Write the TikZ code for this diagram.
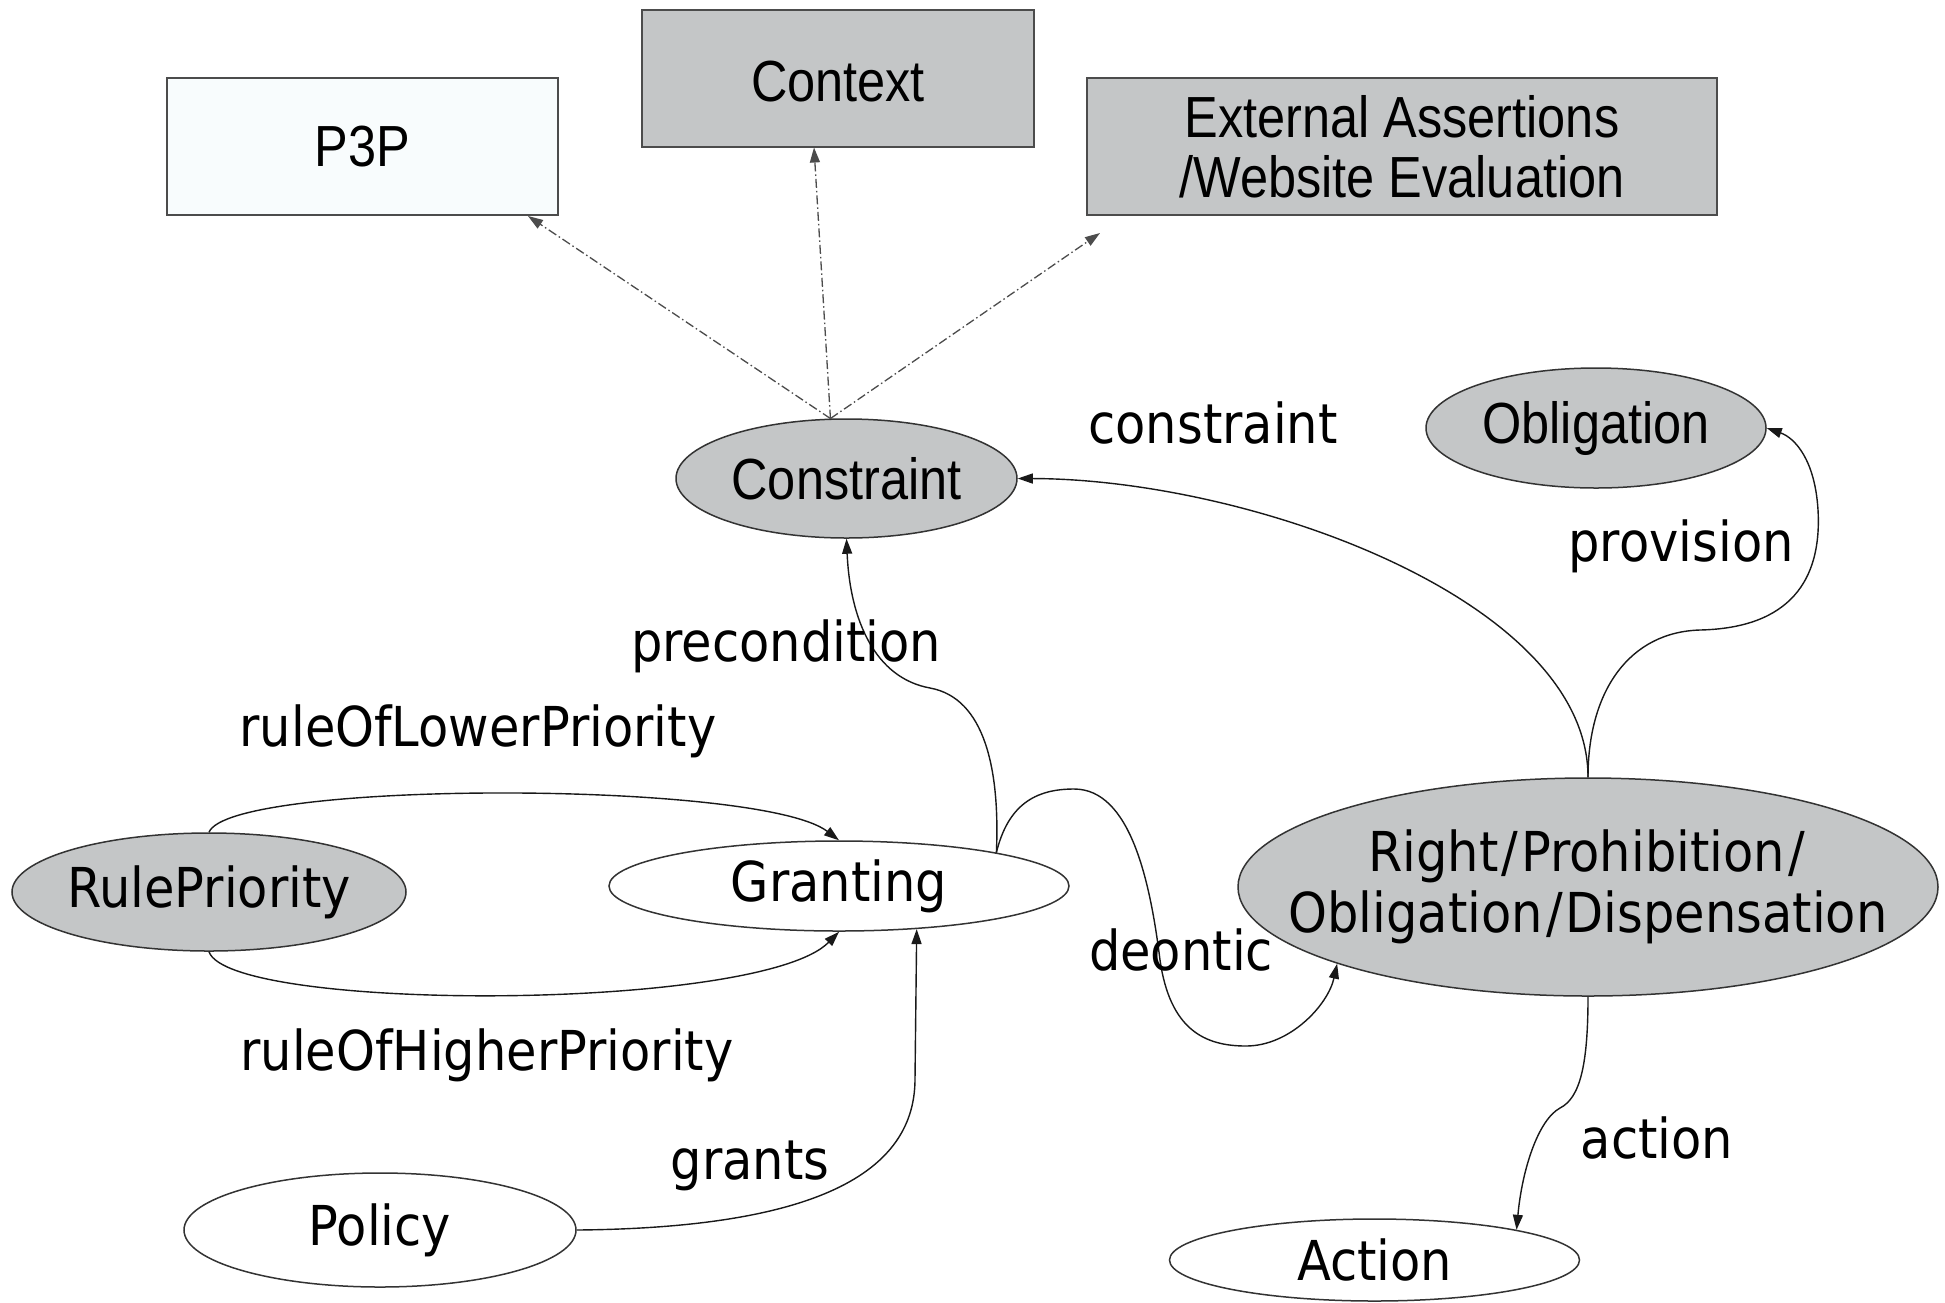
\documentclass[tikz,border=0pt]{standalone}
\usepackage{fontspec}
\usetikzlibrary{shapes.geometric,arrows.meta}
\newfontfamily\fhelv[FakeStretch=0.87]{Liberation Sans}
\newfontfamily\fluc[FakeStretch=0.9]{DejaVu Sans}
\definecolor{nodegray}{RGB}{196,198,199}
\definecolor{paleblue}{RGB}{248,252,253}
\newcommand\mkz[1]{\makebox[0pt]{#1}}
\newcommand\sls{\kern3pt/\kern3pt}
\begin{document}
\begin{tikzpicture}[x=1pt,y=-1pt,
 box/.style={draw=black!70, line width=2pt, rectangle, inner sep=0pt, font=\fhelv\fontsize{58}{60}\selectfont, align=center},
 ell/.style={draw=black!80, line width=1.5pt, ellipse, inner sep=0pt},
 hel/.style={font=\fhelv\fontsize{58}{60}\selectfont},
 luc/.style={font=\fluc\fontsize{55}{61}\selectfont},
 lab/.style={font=\fluc\fontsize{55}{61}\selectfont, inner sep=0pt},
 edge/.style={draw=black!90, line width=1.4pt, -{Triangle[length=15pt,width=10pt]}},
 dd/.style={draw=black!70, line width=1.3pt, dash pattern=on 9pt off 3pt on 1.5pt off 3pt, -{Triangle[length=15pt,width=10pt]}},
]
\useasboundingbox (0,0) rectangle (1945,1302);
\fill[white] (0,0) rectangle (1945,1302);

% boxes
\node[box, fill=paleblue, minimum width=391pt, minimum height=137pt] (p3p) at (362.5,146.5) {P3P};
\node[box, fill=nodegray, minimum width=392pt, minimum height=137pt] (ctx) at (838,78) {\raisebox{-4pt}[\height][\depth]{Context}};
\node[box, fill=nodegray, minimum width=630pt, minimum height=137pt] (ext) at (1402,146.5) {External Assertions\\/Website Evaluation};

% ellipses
\node[ell, fill=nodegray, hel, minimum width=341pt, minimum height=119pt] (cons) at (846.5,478.5) {\mkz{Constraint}};
\node[ell, fill=nodegray, hel, minimum width=340pt, minimum height=120pt] (obl) at (1596,428) {\mkz{Obligation}};
\node[ell, fill=nodegray, luc, minimum width=394pt, minimum height=118pt] (rp) at (209,892) {\mkz{RulePriority}};
\node[ell, fill=white, luc, minimum width=460pt, minimum height=90pt] (gra) at (839,886) {\mkz{Granting}};
\node[ell, fill=nodegray, luc, minimum width=700pt, minimum height=218pt, align=center] (r) at (1588,887) {\mkz{Right\sls Prohibition\sls}\\\mkz{Obligation\sls Dispensation}};
\node[ell, fill=white, luc, minimum width=392pt, minimum height=114pt] (pol) at (380,1230) {\mkz{Policy}};
\node[ell, fill=white, luc, minimum width=410pt, minimum height=82pt] (act) at (1374.5,1260) {\mkz{Action}};

% dash-dot connectors
\draw[dd] (cons.105) -- ([xshift=-31pt]p3p.south east);
\draw[dd] (cons.105) -- ([xshift=-24pt]ctx.south);
\draw[dd] (cons.105) -- ([xshift=14pt,yshift=-17pt]ext.south west);

% solid connectors
\draw[edge] (r.north) .. controls (1588,600) and (1250,479) .. (cons.east);
\draw[edge] (r.north) .. controls (1588,690) and (1630,632) .. (1700,630) .. controls (1790,628) and (1822,580) .. (1818,510) .. controls (1815,460) and (1795,438) .. (obl.east);
\draw[edge] (gra.12) .. controls (1000,770) and (985,698) .. (930,688) .. controls (875,678) and (850,620) .. (cons.south);
\draw[edge] (gra.12) .. controls (1008,805) and (1035,789) .. (1074,789) .. controls (1130,789) and (1150,880) .. (1160,960) .. controls (1170,1030) and (1205,1046) .. (1246,1046) .. controls (1290,1046) and (1328,1005) .. (r.197);
\draw[edge] (rp.north) .. controls (230,780) and (760,780) .. (gra.north);
\draw[edge] (rp.south) .. controls (230,1012) and (760,1012) .. (gra.south);
\draw[edge] (pol.east) .. controls (800,1228) and (915,1180) .. (915,1079) -- (gra.-29);
\draw[edge] (r.south) .. controls (1588,1065) and (1580,1098) .. (1560,1108) .. controls (1538,1120) and (1522,1170) .. (act.12);

% labels
\node[lab] (lcons) at (1213,423) {constraint};
\node[lab] (lprov) at (1681,546) {provision};
\node[lab] (lpre) at (786,646) {precondition};
\node[lab] (llow) at (478,731) {ruleOfLowerPriority};
\node[lab] (lhigh) at (487,1055) {ruleOfHigherPriority};
\node[lab] (lgr) at (750,1166) {grants};
\node[lab] (ldeo) at (1181,950) {deontic};
\node[lab] (lact) at (1657,1138) {action};
\end{tikzpicture}
\end{document}
